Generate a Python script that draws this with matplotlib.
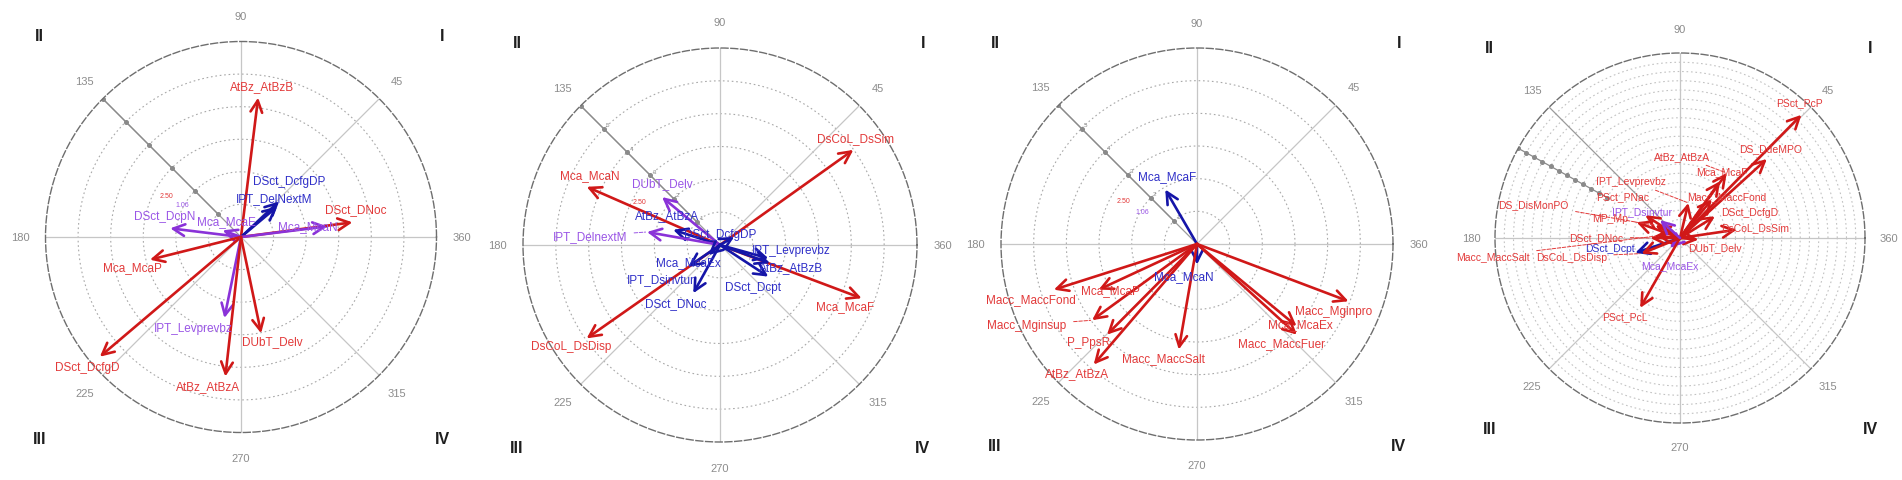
import numpy as np
import matplotlib
matplotlib.use('Agg')
import matplotlib.pyplot as plt

plt.rcParams['font.family'] = ['Liberation Sans', 'DejaVu Sans']

# ---- data: one list set per panel (angle in degrees, length in ring units) ----
p1_names = ['AtBz_AtBzB', 'DSct_DcfgDP', 'IPT_DelNextM', 'DSct_DNoc', 'Mca_McaN', 'DSct_DcpN',
            'Mca_McaE', 'Mca_McaP', 'DSct_DcfgD', 'IPT_Levprevbz', 'AtBz_AtBzA', 'DUbT_Delv']
p1_angle = [83.0, 43.0, 40.0, 7.5, 7.0, 173.0, 160.0, 194.0, 220.3, 258.4, 263.6, 281.8]
p1_length = [4.31, 1.60, 1.45, 3.45, 2.67, 2.19, 0.60, 2.88, 5.68, 2.54, 4.31, 3.02]
p1_group = ['r', 'b', 'b', 'r', 'p', 'p', 'p', 'r', 'r', 'p', 'r', 'r']

p2_names = ['DsCoL_DsSim', 'DsCoL_DsDisp', 'Mca_McaN', 'Mca_McaF', 'DUbT_Delv', 'AtBz_AtBzA',
            'IPT_DelnextM', 'DSct_DcfgDP', 'IPT_Levprevbz', 'AtBz_AtBzB', 'DSct_Dcpt',
            'Mca_McaEx', 'IPT_Dsinvtur', 'DSct_DNoc']
p2_angle = [35.5, 215.0, 156.4, 339.4, 140.4, 162.0, 169.9, 30.0, 344.6, 340.0, 326.8, 220.6, 214.4, 241.0]
p2_length = [4.99, 4.96, 4.43, 4.61, 2.29, 1.50, 2.26, 0.50, 1.53, 1.62, 1.76, 0.47, 1.17, 1.68]
p2_group = ['r', 'r', 'r', 'r', 'p', 'b', 'p', 'b', 'b', 'b', 'b', 'b', 'b', 'b']

p3_names = ['Mca_McaF', 'Mca_McaN', 'Macc_MaccFond', 'Mca_McaP', 'Macc_Mginsup', 'P_PpsR',
            'AtBz_AtBzA', 'Macc_MaccSalt', 'Macc_MaccFuer', 'Mca_McaEx', 'Macc_Mginpro']
p3_angle = [120.2, 270.0, 197.7, 204.9, 216.0, 225.2, 229.4, 260.2, 317.8, 320.5, 339.3]
p3_length = [1.93, 0.63, 4.60, 3.32, 3.97, 3.91, 4.86, 3.28, 4.13, 3.95, 4.96]
p3_group = ['b', 'b', 'r', 'r', 'r', 'r', 'r', 'r', 'r', 'r', 'r']

p4_names = ['PSct_PcP', 'DS_DdeMPO', 'AtBz_AtBzA', 'Mca_McaF', 'Macc_MaccFond', 'IPT_Levprevbz',
            'DSct_DcfgD', 'DsCoL_DsSim', 'DUbT_Delv', 'Mca_McaEx', 'PSct_PcL', 'DSct_Dcpt',
            'DsCoL_DsDisp', 'Macc_MaccSalt', 'DSct_DNoc', 'DS_DisMonPO', 'PSct_PNac', 'MP_Mp',
            'IPT_Dsinvtur']
p4_angle = [45.4, 42.3, 54.3, 54.8, 50.4, 76.6, 31.8, 8.4, 354.8, 225.0, 240.3, 198.4,
            202.0, 175.0, 180.0, 160.0, 146.7, 152.5, 138.0]
p4_length = [18.7, 12.7, 8.65, 7.5, 5.4, 3.9, 4.45, 6.2, 2.0, 1.53, 8.7, 5.1,
             4.5, 2.5, 3.2, 5.0, 4.5, 3.0, 2.9]
p4_group = ['r', 'r', 'r', 'r', 'r', 'r', 'r', 'r', 'r', 'p', 'r', 'b',
            'r', 'r', 'r', 'r', 'r', 'r', 'p']

theta_ticks = [0, 45, 90, 135, 180, 225, 270, 315]
theta_labels = ['360', '45', '90', '135', '180', '225', '270', '315']
quadrants = ['I', 'II', 'III', 'IV']

# ---- layout (pixels), label offsets in pixels from arrow tip ----
p1_off = [(4, 12), (10, 20), (-3, 9), (3, 13), (-20, 0), (-5, 12), (4, 9), (-18, -7),
          (-13, -10), (-31, -10), (-17, -10), (11, -8)]
p1_lead = [False] * 12
p2_off = [(2, 12), (-15, -8), (3, 12), (-17, -8), (0, 14), (-6, 15), (-57, -4), (-14, 3),
          (23, 8), (21, -4), (-15, -10), (-20, -7), (-27, -12), (-18, -10)]
p2_lead = [False] * 6 + [True] + [False] * 7
p3_off = [(2, 13), (-13, -11), (-23, -9), (12, 0), (-65, -5), (-18, -7), (-17, -9),
          (-15, -8), (-15, -8), (4, 2), (-15, -10)]
p3_lead = [False, False, False, False, True, False, False, False, False, False, False]
p4_off = [(-2, 13), (4, 11), (-45, 17), (2, 10), (15, 3), (-57, 22), (35, 4), (18, 2),
          (17, -7), (0, -17), (-15, -8), (-25, 5), (-70, -3), (-164, -20), (-54, 1),
          (-103, 18), (-23, 19), (-45, 7), (-18, 9)]
p4_lead = [False, False, True, False, False, True, False, False, False, False, False, False,
           True, True, True, True, False, True, False]

arrow_col = {'r': '#d01818', 'b': '#1515a8', 'p': '#8a32d8'}
label_col = {'r': '#e23a3a', 'b': '#3030c8', 'p': '#9a55e6'}

W, H = 1902, 481
fig = plt.figure(figsize=(W / 100, H / 100), dpi=100)


def polar_panel(cx, cy, R, rmax, names, angles, lengths, groups, offs, leads,
                tick_angle=135, tick_from=1, fs=8.5, ring_col='#a8a8a8', digits=True):
    ax = fig.add_axes([(cx - R) / W, (H - cy - R) / H, 2 * R / W, 2 * R / H], projection='polar')
    ax.set_ylim(0, rmax)
    ax.grid(False)
    ax.set_xticks([])
    ax.set_yticks([])
    ax.spines['polar'].set_linestyle((0, (5, 2)))
    ax.spines['polar'].set_color('#6e6e6e')
    ax.spines['polar'].set_linewidth(1.0)

    th = np.linspace(0, 2 * np.pi, 400)
    for r in range(1, rmax):
        ax.plot(th, np.full_like(th, r), ls=(0, (1.5, 2.5)), color=ring_col, lw=0.8, zorder=1)
    for a in theta_ticks:
        col = '#9a9a9a' if a == 135 else '#c6c6c6'
        ax.plot([np.deg2rad(a)] * 2, [0, rmax], color=col, lw=0.9, zorder=1)
    # marked axis
    rr = np.arange(tick_from, rmax + 1)
    ax.plot(np.full(len(rr), np.deg2rad(tick_angle)), rr, color='#8a8a8a', lw=0.9,
            marker='o', ms=2.6, zorder=1.5)
    if digits:
        for r in rr[:-1]:
            ax.annotate(str(r), xy=(np.deg2rad(tick_angle), r), xytext=(4, 4),
                        textcoords='offset pixels', fontsize=4.5, color='#8a8a8a',
                        ha='center', va='center')

    for a, lab in zip(theta_ticks, theta_labels):
        ax.text(np.deg2rad(a), rmax * 1.13, lab, ha='center', va='center', fontsize=8,
                color='#8c8c8c', clip_on=False)

    qpos = [(1.015, 1.015), (-0.015, 1.015), (-0.015, -0.015), (1.015, -0.015)]
    for q, (x, y) in zip(quadrants, qpos):
        ax.text(x, y, q, transform=ax.transAxes, ha='center', va='center', fontsize=11.5,
                fontweight='bold', color='#1e1e1e')

    for n, a, l, g, off, lead in zip(names, angles, lengths, groups, offs, leads):
        tip = (np.deg2rad(a), l)
        ax.annotate('', xy=tip, xytext=(0, 0), annotation_clip=False,
                    arrowprops=dict(arrowstyle='->,head_length=0.6,head_width=0.3',
                                    color=arrow_col[g], lw=1.9, shrinkA=0, shrinkB=0,
                                    mutation_scale=14), zorder=3)
        lp = dict(arrowstyle='-', color=label_col[g], lw=0.7, ls='--', shrinkA=3, shrinkB=1) if lead else None
        ax.annotate(n, xy=tip, xytext=off, textcoords='offset pixels', ha='center', va='center',
                    fontsize=fs, color=label_col[g], arrowprops=lp, annotation_clip=False, zorder=4)
    return ax


ax1 = polar_panel(241, 238, 195.5, 6, p1_names, p1_angle, p1_length, p1_group, p1_off, p1_lead,
                  digits=False)
ax1.text(np.deg2rad(151), 2.63, '2.50', color='#e23a3a', fontsize=5, ha='center', va='center')
ax1.text(np.deg2rad(151.5), 2.06, '1.06', color='#9a55e6', fontsize=5, ha='center', va='center')

ax2 = polar_panel(720, 246, 197, 6, p2_names, p2_angle, p2_length, p2_group, p2_off, p2_lead)
ax2.text(np.deg2rad(151.7), 2.77, '2.50', color='#e23a3a', fontsize=5, ha='center', va='center')

ax3 = polar_panel(1197, 245, 196, 6, p3_names, p3_angle, p3_length, p3_group, p3_off, p3_lead)
ax3.text(np.deg2rad(149.4), 2.61, '2.50', color='#e23a3a', fontsize=5, ha='center', va='center')
ax3.text(np.deg2rad(149.3), 1.96, '1.06', color='#9a55e6', fontsize=5, ha='center', va='center')

ax4 = polar_panel(1680, 239, 185, 20, p4_names, p4_angle, p4_length, p4_group, p4_off, p4_lead,
                  tick_angle=151, tick_from=9, fs=7.5, ring_col='#c2c2c2', digits=False)

fig.savefig('out.png', dpi=100)
